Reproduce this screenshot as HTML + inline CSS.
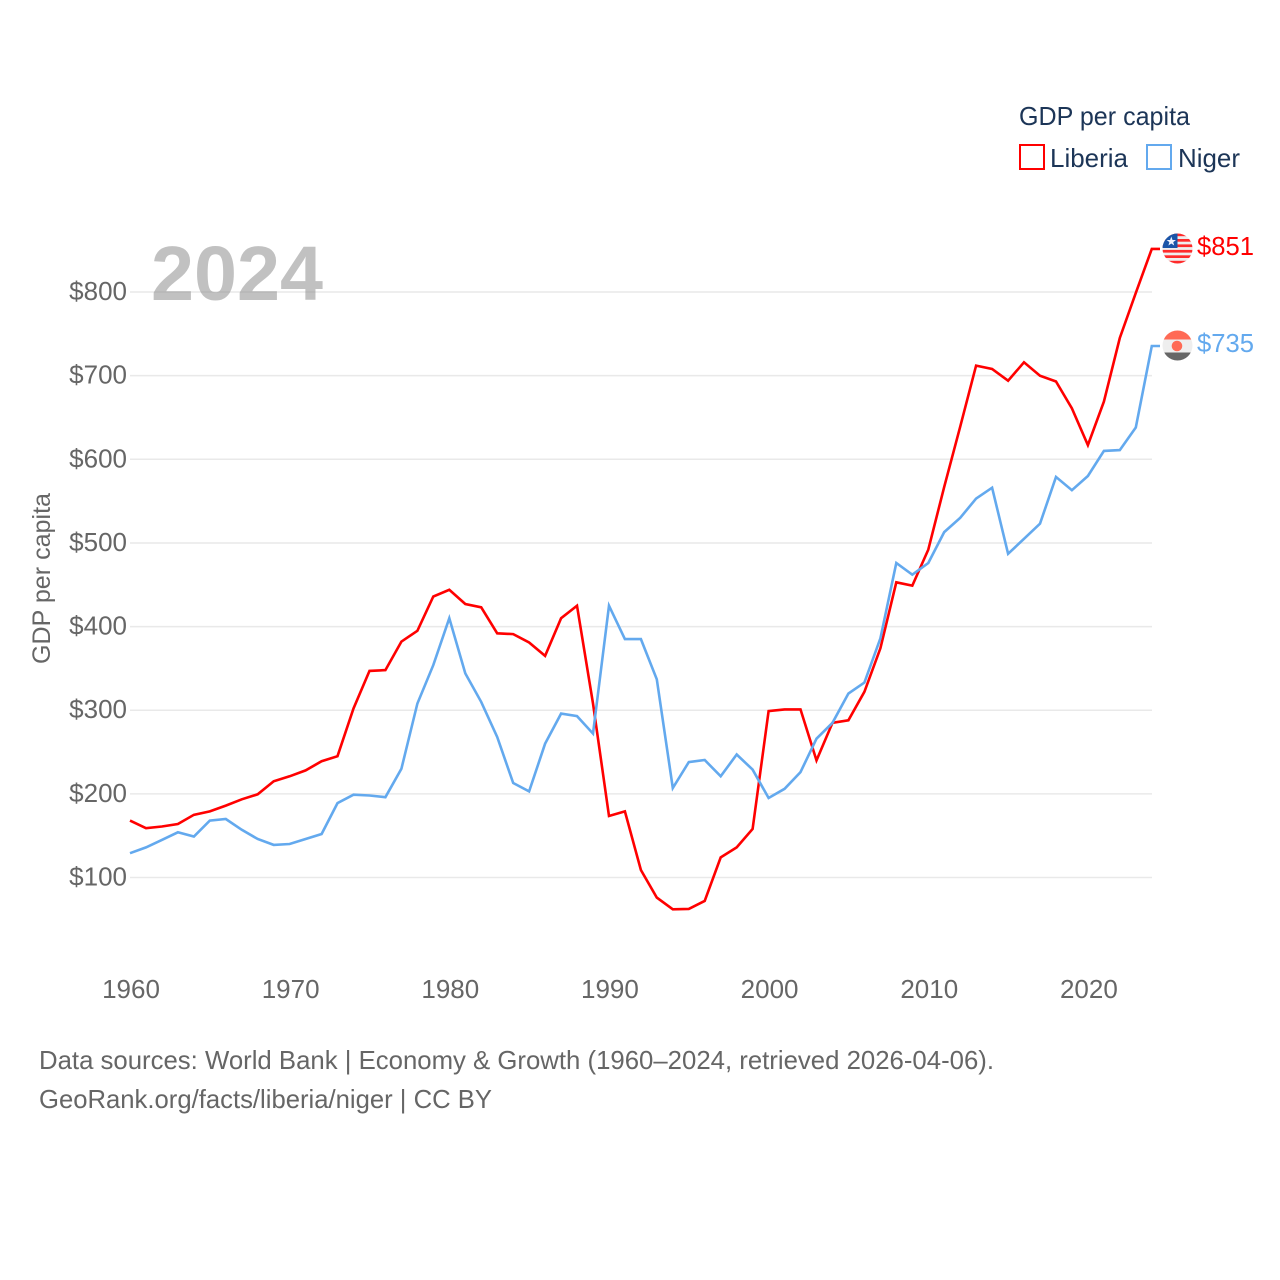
<!DOCTYPE html>
<html lang="en">
<head>
<meta charset="utf-8">
<title>GDP per capita: Liberia and Niger</title>
<style>
html,body{margin:0;padding:0;background:#fff;width:1280px;height:1280px;overflow:hidden}
svg{display:block}
text{font-family:"Liberation Sans",sans-serif}
</style>
</head>
<body>
<svg id="chart" xmlns="http://www.w3.org/2000/svg" width="1280" height="1280" viewBox="0 0 1280 1280">
  <defs>
    <clipPath id="clip-lr"><circle cx="1177.5" cy="248.5" r="15"/></clipPath>
    <clipPath id="clip-ne"><circle cx="1177.5" cy="345.5" r="15"/></clipPath>
  </defs>
  <g id="grid"></g>
  <text x="151" y="300" font-size="77" font-weight="700" fill="#888" fill-opacity="0.52" textLength="172" lengthAdjust="spacingAndGlyphs">2024</text>
  <g id="y-axis"></g>
  <g id="x-axis"></g>
  <text transform="translate(50,664) rotate(-90)" font-size="25" fill="#666" textLength="171" lengthAdjust="spacingAndGlyphs">GDP per capita</text>
  <g id="series"></g>

  <g>
    <text x="1019" y="125" font-size="26" fill="#1c3557" textLength="171" lengthAdjust="spacingAndGlyphs">GDP per capita</text>
    <rect x="1020" y="145" width="24" height="24" fill="none" stroke="#ff0000" stroke-width="2"/>
    <text x="1050" y="167" font-size="26" fill="#1c3557" textLength="78" lengthAdjust="spacingAndGlyphs">Liberia</text>
    <rect x="1147" y="145" width="24" height="24" fill="none" stroke="#63a9ee" stroke-width="2"/>
    <text x="1178" y="167" font-size="26" fill="#1c3557" textLength="62" lengthAdjust="spacingAndGlyphs">Niger</text>
  </g>

  <g clip-path="url(#clip-lr)">
    <rect x="1162" y="233" width="31" height="31" fill="#eeeeee"/>
    <rect x="1162" y="233.5" width="31" height="2.7" fill="#ff2b2b"/>
    <rect x="1162" y="239" width="31" height="2.7" fill="#ff2b2b"/>
    <rect x="1162" y="244.4" width="31" height="2.7" fill="#ff2b2b"/>
    <rect x="1162" y="249.9" width="31" height="2.7" fill="#ff2b2b"/>
    <rect x="1162" y="255.3" width="31" height="2.7" fill="#ff2b2b"/>
    <rect x="1162" y="260.8" width="31" height="2.7" fill="#ff2b2b"/>
    <rect x="1162" y="233" width="15.5" height="15" fill="#1a55a8"/>
    <polygon points="1171.3,236.5 1172.5,240 1176,240 1173.2,242.1 1174.2,245.5 1171.3,243.5 1168.4,245.5 1169.4,242.1 1166.6,240 1170.1,240" fill="#eef4ff"/>
  </g>
  <g clip-path="url(#clip-ne)">
    <rect x="1162" y="330" width="31" height="9.5" fill="#ff6a55"/>
    <rect x="1162" y="339.5" width="31" height="13" fill="#eeeeee"/>
    <rect x="1162" y="352.5" width="31" height="9" fill="#666666"/>
    <circle cx="1177" cy="346" r="5.3" fill="#ff6a55"/>
  </g>

  <text x="1197" y="255" font-size="26" fill="#ff0000" textLength="57" lengthAdjust="spacingAndGlyphs">$851</text>
  <text x="1197" y="352" font-size="26" fill="#63a9ee" textLength="57" lengthAdjust="spacingAndGlyphs">$735</text>

  <text x="39" y="1069" font-size="26" fill="#666" textLength="955" lengthAdjust="spacingAndGlyphs">Data sources: World Bank | Economy &amp; Growth (1960–2024, retrieved 2026-04-06).</text>
  <text x="39" y="1108" font-size="26" fill="#666" textLength="453" lengthAdjust="spacingAndGlyphs">GeoRank.org/facts/liberia/niger | CC BY</text>
</svg>
<script>
const yTicks = [100, 200, 300, 400, 500, 600, 700, 800];
const xTicks = [1960, 1970, 1980, 1990, 2000, 2010, 2020];
const startYear = 1960;
const liberia = [168,159,161,164,175,179,186,193.5,199.5,215,221,228,239,245,302,347,348,382,395,436,444,427,423,392,391,381,365,410,425,308,173.5,179,109,76,62,62.5,72,124,136,158,299,301,301,240,285,288,322,374,453,449,492,567,639,712,708,694,716,700,693,661,617,669,745,799,851.5];
const niger = [129,136,145,154,149,168,170,157,146,139,140,146,152,189,199,198,196,230,308,354,410,344,310,268,213,203,260,296,293,272,425,385,385,337,207,238,240.5,221,247,229,195,206,226,266,285,320,333,386,476,462,476,513,530,553,566,487,505,523,579,563,580,610,611,638,735.5];

const NS = 'http://www.w3.org/2000/svg';
function xScale(year) { return 130 + (year - 1960) * 15.965; }
function yScale(v) { return 877.5 - (v - 100) * 0.8364; }

const grid = document.getElementById('grid');
const yAxis = document.getElementById('y-axis');
const xAxis = document.getElementById('x-axis');
const seriesGroup = document.getElementById('series');

yTicks.forEach(function (t) {
  const line = document.createElementNS(NS, 'line');
  
  
  line.setAttribute('x1', 130);
  line.setAttribute('x2', 1152);
  line.setAttribute('y1', yScale(t));
  line.setAttribute('y2', yScale(t));
  line.setAttribute('stroke', '#e9e9e9');
  line.setAttribute('stroke-width', 1.5);
  grid.appendChild(line);

  const label = document.createElementNS(NS, 'text');
  
  
  label.setAttribute('x', 127);
  label.setAttribute('y', yScale(t) + 8);
  label.setAttribute('text-anchor', 'end');
  label.setAttribute('font-size', 26);
  label.setAttribute('fill', '#666');
  label.textContent = '$' + t;
  yAxis.appendChild(label);
});

xTicks.forEach(function (t) {
  const label = document.createElementNS(NS, 'text');
  
  
  label.setAttribute('x', xScale(t) + 1);
  label.setAttribute('y', 998);
  label.setAttribute('text-anchor', 'middle');
  label.setAttribute('font-size', 26);
  label.setAttribute('fill', '#666');
  label.textContent = t;
  xAxis.appendChild(label);
});

function buildPoints(values) {
  const pts = values.map(function (v, i) {
    return xScale(startYear + i).toFixed(1) + ',' + yScale(v).toFixed(1);
  });
  const last = values[values.length - 1];
  pts.push('1160,' + yScale(last).toFixed(1));
  return pts.join(' ');
}

const lineLiberia = document.createElementNS(NS, 'polyline');


lineLiberia.setAttribute('points', buildPoints(liberia));
lineLiberia.setAttribute('fill', 'none');
lineLiberia.setAttribute('stroke', '#ff0000');
lineLiberia.setAttribute('stroke-width', 2.6);
lineLiberia.setAttribute('stroke-linejoin', 'miter');
seriesGroup.appendChild(lineLiberia);

const lineNiger = document.createElementNS(NS, 'polyline');


lineNiger.setAttribute('points', buildPoints(niger));
lineNiger.setAttribute('fill', 'none');
lineNiger.setAttribute('stroke', '#63a9ee');
lineNiger.setAttribute('stroke-width', 2.6);
lineNiger.setAttribute('stroke-linejoin', 'miter');
seriesGroup.appendChild(lineNiger);
</script>
</body>
</html>
